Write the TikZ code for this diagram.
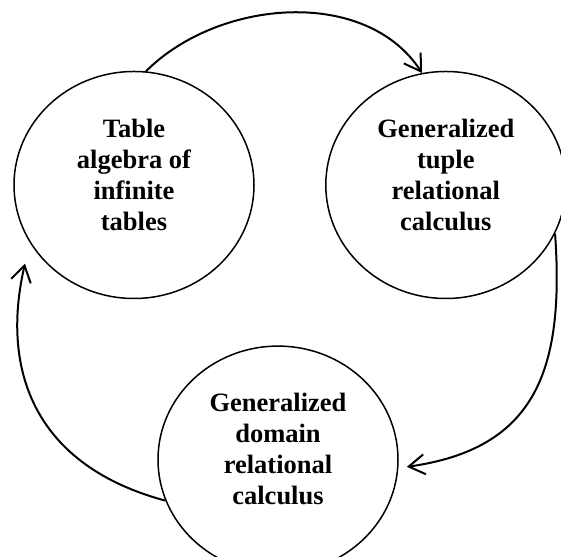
\documentclass[tikz,border=0pt]{standalone}
\usepackage{fontspec}
\setmainfont{Liberation Serif}
\usetikzlibrary{arrows.meta,shapes.geometric}

\begin{document}
\begin{tikzpicture}[x=1bp,y=1bp,->,>={Straight Barb[length=16bp,width=20bp]},
                    line width=2bp,node distance=311.8bp]

  \tikzstyle{bubble}=[ellipse,draw,line width=1.5bp,inner sep=0pt,
                      minimum width=240bp,minimum height=227bp]
  \tikzstyle{words}=[align=center,font=\bfseries\fontsize{26.5bp}{31bp}\selectfont]

  \useasboundingbox (0,0) rectangle (561,557);

  \node[bubble] (tab) at (134,372)   {};
  \node[bubble] (gen) [right of=tab] {};
  \node[bubble] (dom) at (278,97.4)  {};

  \node[words] (tabtxt) at ([yshift=10bp]tab.center) {Table \\ algebra of \\ infinite \\ tables};
  \node[words] (gentxt) at ([yshift=10bp]gen.center) {Generalized \\ tuple \\ relational \\ calculus};
  \node[words] (domtxt) at ([yshift=11bp]dom.center) {Generalized \\ domain \\ relational \\ calculus};

  \path
  (tab.84)  edge [out=45,in=123,looseness=0.95]                  (gen.102)
  (gen.336) edge [out=274,in=8,looseness=1.25,shorten >=8.5bp]   (dom.356)
  (dom.200) edge [out=165,in=257,looseness=1.17,shorten >=21.5bp] (tab.209)
  ;
\end{tikzpicture}
\end{document}
